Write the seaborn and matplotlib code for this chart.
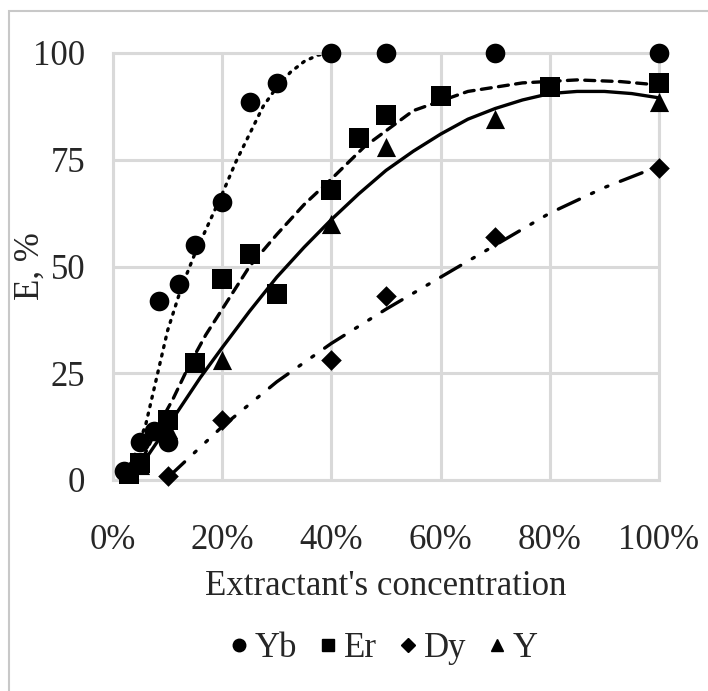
import matplotlib
matplotlib.use("Agg")
import matplotlib.pyplot as plt
import numpy as np
import pandas as pd
import seaborn as sns
from matplotlib.lines import Line2D
from matplotlib.patches import Rectangle

# measured points (extractant %, extraction E %)
yb_x = [2, 5, 7.5, 8.5, 10, 12, 15, 20, 25, 30, 40, 50, 70, 100]
yb_y = [2, 9, 11.5, 42, 9, 46, 55, 65, 88.5, 93, 100, 100, 100, 100]
er_x = [3, 5, 10, 15, 20, 25, 30, 40, 45, 50, 60, 80, 100]
er_y = [1.5, 4, 14, 27.5, 47, 53, 43.5, 68, 80, 85.5, 90, 92, 93]
dy_x = [10, 20, 40, 50, 70, 100]
dy_y = [1, 14, 28, 43, 57, 73]
y_x = [3, 5, 10, 20, 40, 50, 70, 100]
y_y = [2, 3.5, 12, 28, 60, 78, 84.5, 88.5]

# trend lines
yb_fit_x = [2, 4, 6, 8, 10, 12.5, 15, 17.5, 20, 22.5, 25, 27.5, 30, 32.5, 35, 37.5, 40, 50, 70, 100]
yb_fit_y = [0, 6, 13, 24, 35, 45, 53, 60, 67, 74.5, 81, 87.5, 92, 95.5, 98, 99.5, 100, 100, 100, 100]
er_fit_x = [4, 8, 11, 14, 17, 21, 25, 30, 35, 40, 46, 55, 65, 75, 85, 93, 100]
er_fit_y = [1, 12, 19, 27, 34, 42, 50, 57.5, 64.5, 70.5, 78, 86.5, 91, 93, 93.7, 93.3, 92.5]
dy_fit_x = [10, 20, 30, 40, 50, 60, 70, 80, 90, 100]
dy_fit_y = [0.5, 12.5, 23, 32, 40, 47.5, 55, 62.5, 68.5, 73.5]
y_fit_x = [3, 6, 10, 16, 20, 25, 30, 35, 40, 45, 50, 55, 60, 65, 70, 75, 80, 85, 90, 95, 100]
y_fit_y = [0, 5, 12.5, 24, 31, 39.5, 47.5, 54.5, 61, 67, 72.5, 77, 81, 84.5, 87, 89, 90.5, 91, 91, 90.5, 89.5]

x_ticks = [0, 20, 40, 60, 80, 100]
x_tick_labels = ["0%", "20%", "40%", "60%", "80%", "100%"]
y_ticks = [0, 25, 50, 75, 100]

sns.set_style("whitegrid", {"grid.color": "#d9d9d9", "axes.edgecolor": "#d9d9d9"})
plt.rcParams["font.family"] = ["Liberation Serif", "DejaVu Serif"]

fig = plt.figure(figsize=(7.08, 6.91), dpi=100)
ax = fig.add_axes([113 / 708, 1 - 480 / 691, 546 / 708, 427 / 691])

series = [
    ("Yb", yb_x, yb_y, yb_fit_x, yb_fit_y, "o", 200, (0, (0.6, 2.0))),
    ("Er", er_x, er_y, er_fit_x, er_fit_y, "s", 190, (0, (3.0, 2.2))),
    ("Dy", dy_x, dy_y, dy_fit_x, dy_fit_y, "D", 110, (0, (7, 4, 0.7, 4, 0.7, 4))),
    ("Y", y_x, y_y, y_fit_x, y_fit_y, "^", 190, "-"),
]

handles = []
for name, px, py, fx, fy, marker, size, ls in series:
    fit = pd.DataFrame({"x": fx, "y": fy})
    sns.lineplot(data=fit, x="x", y="y", ax=ax, color="black", linewidth=2.4,
                 linestyle=ls, sort=False, legend=False)
    pts = pd.DataFrame({"x": px, "y": py})
    sns.scatterplot(data=pts, x="x", y="y", ax=ax, color="black", marker=marker,
                    s=size, edgecolor="black", linewidth=0, legend=False,
                    clip_on=False, zorder=5)
    handles.append(Line2D([], [], color="black", marker=marker, linestyle="none",
                          markersize=9 if marker != "D" else 7, label=name))

for line in ax.get_lines():
    line.set_dash_capstyle("round")

ax.set_xlim(0, 100)
ax.set_ylim(0, 100)
ax.set_xticks(x_ticks)
ax.set_xticklabels(x_tick_labels)
ax.set_yticks(y_ticks)
ax.grid(True, linewidth=2.2, color="#d9d9d9")
for sp in ax.spines.values():
    sp.set_linewidth(2.2)
    sp.set_color("#d9d9d9")
ax.tick_params(axis="x", labelsize=25, pad=32, length=0)
ax.tick_params(axis="y", labelsize=25, pad=20, length=0)
ax.set_xlabel("")
ax.set_ylabel("")
ax.text(0.5, -0.25, "Extractant's concentration", transform=ax.transAxes,
        ha="center", va="center", fontsize=25)
ax.text(-0.152, 0.5, "E, %", transform=ax.transAxes, rotation=90,
        ha="center", va="center", fontsize=25)

ax.legend(handles=handles, loc="center", bbox_to_anchor=(0.495, -0.395), ncol=4,
          frameon=False, fontsize=25, handlelength=0.6, handletextpad=0.15,
          columnspacing=0.6, borderpad=0)

fig.patches.append(Rectangle((9 / 708, -0.1), 1.2, 1 - 11 / 691 + 0.1,
                             transform=fig.transFigure, fill=False,
                             edgecolor="#c8c8c8", linewidth=1.5))

fig.savefig("out.png", dpi=100)
